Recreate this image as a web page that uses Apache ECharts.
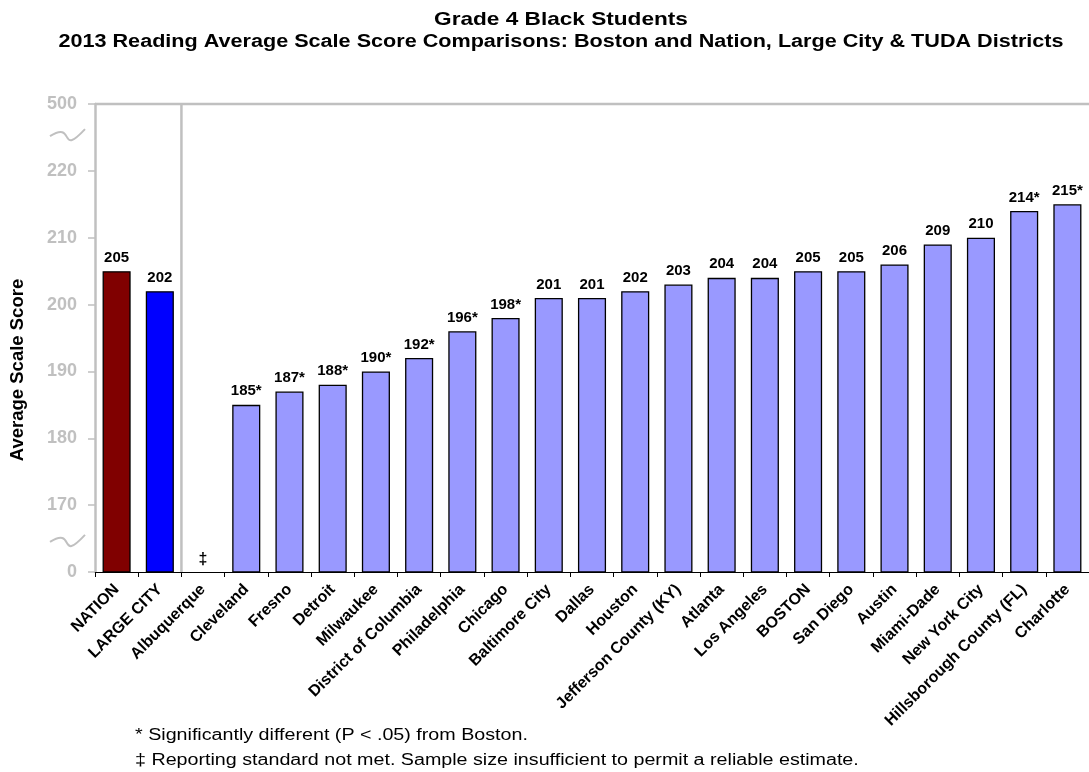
<!DOCTYPE html>
<html>
<head>
<meta charset="utf-8">
<script src="https://cdn.jsdelivr.net/npm/echarts@6/dist/echarts.min.js"></script>
<style>
  html, body { margin: 0; padding: 0; background: #fff; }
  #chart { width: 1089px; height: 772px; }
</style>
</head>
<body>
<div id="chart"></div>
<script>
// Grade 4 Black students, 2013 NAEP reading average scale scores
const categories = [
  'NATION', 'LARGE CITY', 'Albuquerque', 'Cleveland', 'Fresno', 'Detroit',
  'Milwaukee', 'District of Columbia', 'Philadelphia', 'Chicago',
  'Baltimore City', 'Dallas', 'Houston', 'Jefferson County (KY)', 'Atlanta',
  'Los Angeles', 'BOSTON', 'San Diego', 'Austin', 'Miami-Dade',
  'New York City', 'Hillsborough County (FL)', 'Charlotte'
];
// null = reporting standard not met
const scores = [
  205, 202, null, 185, 187, 188, 190, 192, 196, 198,
  201, 201, 202, 203, 204, 204, 205, 205, 206, 209,
  210, 214, 215
];
// significantly different from Boston (P < .05)
const sigDiff = [
  false, false, false, true, true, true, true, true, true, true,
  false, false, false, false, false, false, false, false, false, false,
  false, true, true
];
// y-axis ticks; the lowest and highest are shown across a scale break
const yTicks = [160, 170, 180, 190, 200, 210, 220, 230];
const yTickLabels = ['0', '170', '180', '190', '200', '210', '220', '500'];

const titleText = 'Grade 4 Black Students';
const subtitleText = '2013 Reading Average Scale Score Comparisons: Boston and Nation, Large City & TUDA Districts';
const yAxisTitle = 'Average Scale Score';
const footnotes = [
  '* Significantly different (P < .05) from Boston.',
  '\u2021 Reporting standard not met. Sample size insufficient to permit a reliable estimate.'
];

const FONT = 'Arial, "Liberation Sans", sans-serif';
const GRAY = '#c0c0c0';
const COLOR_NATION = '#800000';
const COLOR_LARGE = '#0000ff';
const COLOR_DISTRICT = '#9999ff';
const Y_MIN = yTicks[0];
const Y_MAX = yTicks[yTicks.length - 1];

function barColor(i) {
  if (i === 0) return COLOR_NATION;
  if (i === 1) return COLOR_LARGE;
  return COLOR_DISTRICT;
}

const barData = scores.map((v, i) => {
  if (v === null) {
    // empty slot carrying the "not reported" mark at the baseline
    return {
      value: Y_MIN,
      itemStyle: { color: 'transparent', borderWidth: 0 },
      label: { formatter: '\u2021', fontSize: 16, distance: 4 }
    };
  }
  return {
    value: v,
    itemStyle: { color: barColor(i) },
    label: { formatter: v + (sigDiff[i] ? '*' : '') }
  };
});

const chart = echarts.init(document.getElementById('chart'), null, { renderer: 'canvas' });

chart.setOption({
  animation: false,
  backgroundColor: '#fff',
  textStyle: { fontFamily: FONT },
  grid: { left: 95, right: -3, top: 104, bottom: 200, show: false },
  xAxis: {
    type: 'category',
    data: categories,
    axisLine: { lineStyle: { color: '#000', width: 1 } },
    axisTick: { show: true, length: 5, lineStyle: { color: '#000' } },
    axisLabel: {
      interval: 0, rotate: 45, margin: 15,
      fontFamily: FONT, fontSize: 16, fontWeight: 'bold', color: '#000'
    },
    splitLine: { show: false }
  },
  yAxis: {
    type: 'value',
    min: Y_MIN, max: Y_MAX, interval: 10,
    axisLine: { show: true, lineStyle: { color: GRAY, width: 2.5 } },
    axisTick: { show: true, length: 7, lineStyle: { color: GRAY, width: 1.5 } },
    axisLabel: {
      margin: 18, fontFamily: FONT, fontSize: 18, fontWeight: 'bold', color: GRAY,
      formatter: v => {
        const k = yTicks.indexOf(v);
        return k >= 0 ? yTickLabels[k] : '';
      }
    },
    splitLine: { show: false }
  },
  series: [{
    type: 'bar',
    barWidth: '65%',
    data: barData,
    itemStyle: { borderColor: '#000', borderWidth: 1.3 },
    label: {
      show: true, position: 'top', distance: 6,
      fontFamily: FONT, fontSize: 15, fontWeight: 'bold', color: '#000'
    }
  }]
});

// Scale-break squiggles, plot frame, group divider, titles and footnotes
function breakMark(y) {
  const x0 = 50;
  return {
    type: 'bezierCurve',
    shape: {
      x1: x0, y1: y,
      x2: x0 + 35, y2: y - 7,
      cpx1: x0 + 26, cpy1: y - 16,
      cpx2: x0 + 8, cpy2: y + 22
    },
    style: { stroke: GRAY, lineWidth: 2, fill: null },
    z: 10
  };
}

function wideText(text, x, y, size, weight, scaleX, align, rotation) {
  return {
    type: 'text', x: x, y: y, scaleX: scaleX || 1, rotation: rotation || 0,
    style: {
      text: text, fill: '#000',
      font: (weight || 'normal') + ' ' + size + 'px ' + FONT,
      align: align || 'left', verticalAlign: 'middle'
    },
    z: 10
  };
}

const yLow = chart.convertToPixel({ yAxisIndex: 0 }, 164.5);
const yHigh = chart.convertToPixel({ yAxisIndex: 0 }, 225.2);
const yTop = chart.convertToPixel({ yAxisIndex: 0 }, Y_MAX);
const yBase = chart.convertToPixel({ yAxisIndex: 0 }, Y_MIN);
const xC1 = chart.convertToPixel({ xAxisIndex: 0 }, categories[1]);
const xC2 = chart.convertToPixel({ xAxisIndex: 0 }, categories[2]);
const xDivider = (xC1 + xC2) / 2;

chart.setOption({
  graphic: [
    breakMark(yLow),
    breakMark(yHigh),
    {
      type: 'line',
      shape: { x1: 95, y1: yTop, x2: 1089, y2: yTop },
      style: { stroke: GRAY, lineWidth: 2.5 },
      z: 10
    },
    {
      type: 'line',
      shape: { x1: xDivider, y1: yTop, x2: xDivider, y2: yBase },
      style: { stroke: GRAY, lineWidth: 2.5 },
      z: 10
    },
    wideText(titleText, 561, 19.5, 19, 'bold', 1.19, 'center'),
    wideText(subtitleText, 561, 42.5, 18, 'bold', 1.2, 'center'),
    wideText(yAxisTitle, 18, 370, 18.5, 'bold', 1, 'center', Math.PI / 2),
    wideText(footnotes[0], 135, 736, 16, 'normal', 1.23, 'left'),
    wideText(footnotes[1], 135, 761, 16, 'normal', 1.23, 'left')
  ]
});
</script>
</body>
</html>
